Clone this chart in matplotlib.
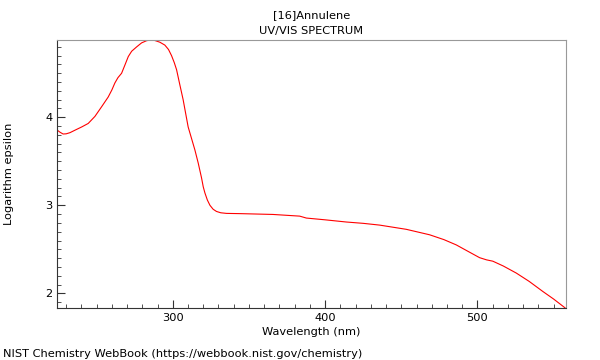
import matplotlib
matplotlib.use("Agg")
import matplotlib.pyplot as plt
from matplotlib.ticker import MultipleLocator

# spectrum
wavelength = [224, 226, 228, 230, 232.5, 236, 240.2, 244.5, 248.9, 253.3, 257.6, 260,
              262, 264, 266.4, 268.5, 270.8, 273, 276.3, 279.5, 282.8, 285.5, 288.3,
              291.5, 294.8, 297.2, 299.2, 301, 302.5, 304.5, 306.8, 308.5, 310.1,
              312.3, 314.5, 316.7, 318.9, 320, 321.1, 322.7, 324.4, 326.5, 328.7,
              331.5, 335.3, 345, 365.8, 383.3, 387.7, 400, 414, 425, 435.8, 453.3,
              468.6, 478, 486.1, 494, 501.4, 506, 510.1, 517, 525.5, 534, 543, 550, 557.5]
log_eps = [3.856, 3.83, 3.81, 3.812, 3.825, 3.855, 3.89, 3.93, 4.01, 4.12, 4.23, 4.31,
           4.39, 4.45, 4.50, 4.59, 4.69, 4.75, 4.80, 4.845, 4.87, 4.878, 4.872,
           4.853, 4.82, 4.77, 4.70, 4.62, 4.54, 4.38, 4.20, 4.04, 3.89,
           3.76, 3.63, 3.48, 3.31, 3.21, 3.14, 3.06, 3.00, 2.955, 2.93,
           2.915, 2.908, 2.905, 2.896, 2.877, 2.855, 2.835, 2.81, 2.795, 2.775, 2.727,
           2.665, 2.61, 2.55, 2.475, 2.405, 2.38, 2.365, 2.31, 2.23, 2.135, 2.02, 1.935, 1.835]

fs = 8.2

fig = plt.figure(figsize=(6, 3.6), dpi=100)
ax = fig.add_axes([0.095, 0.1444, 0.848, 0.7445])
ax.plot(wavelength, log_eps, color="red", lw=0.8)

ax.set_xlim(224, 558)
ax.set_ylim(1.833, 4.878)
ax.xaxis.set_major_locator(MultipleLocator(100))
ax.xaxis.set_minor_locator(MultipleLocator(10))
ax.yaxis.set_major_locator(MultipleLocator(1))
ax.yaxis.set_minor_locator(MultipleLocator(0.1))
ax.tick_params(which="both", direction="in", labelsize=fs, color="#333333")
ax.tick_params(which="major", length=6)
ax.tick_params(which="minor", length=3)
for s in ["top", "right"]:
    ax.spines[s].set_color("#999999")
for s in ["left", "bottom"]:
    ax.spines[s].set_color("#333333")

ax.set_xlabel("Wavelength (nm)", fontsize=fs, labelpad=3)
ax.set_ylabel("Logarithm epsilon", fontsize=fs, labelpad=22)
ax.set_title("[16]Annulene\nUV/VIS SPECTRUM", fontsize=fs, pad=4, linespacing=1.8)
fig.text(0.005, 0.008, "NIST Chemistry WebBook (https://webbook.nist.gov/chemistry)", fontsize=fs)

fig.savefig("out.png", dpi=100)
